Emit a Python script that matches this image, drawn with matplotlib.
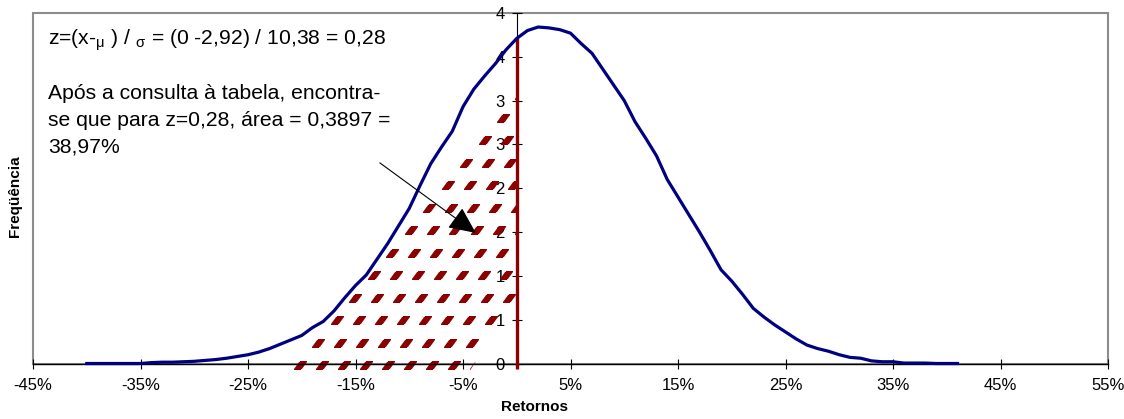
import numpy as np
import matplotlib
matplotlib.use("Agg")
import matplotlib.pyplot as plt
from matplotlib.path import Path
from matplotlib.patches import Polygon, Rectangle

plt.rcParams['font.family'] = ['Liberation Sans', 'DejaVu Sans']
plt.rcParams['mathtext.fontset'] = 'custom'
plt.rcParams['mathtext.rm'] = 'Liberation Sans'
plt.rcParams['mathtext.it'] = 'Liberation Sans'

# ---- data ----
retornos = list(range(-40, 42))  # %
frequencia = [0, 0, 0, 0, 0, 0,
              0.01, 0.015, 0.015, 0.02, 0.025,
              0.035, 0.045, 0.06, 0.08, 0.10, 0.13, 0.17, 0.22, 0.27, 0.32,
              0.41, 0.48, 0.60, 0.75, 0.89, 1.01, 1.19, 1.37, 1.57, 1.77,
              2.03, 2.28, 2.47, 2.65, 2.93, 3.13, 3.28, 3.42, 3.58, 3.71,
              3.80, 3.84, 3.83, 3.81, 3.77, 3.65, 3.54, 3.36, 3.18, 3.00,
              2.76, 2.57, 2.37, 2.10, 1.90, 1.70, 1.50, 1.29, 1.07, 0.94,
              0.79, 0.63, 0.53, 0.44, 0.36, 0.28, 0.21, 0.17, 0.14, 0.10,
              0.07, 0.06, 0.03, 0.02, 0.02, 0.005, 0.005, 0.005, 0, 0, 0]
x_ticks = [-45, -35, -25, -15, -5, 5, 15, 25, 35, 45, 55]
x_tick_labels = ['-45%', '-35%', '-25%', '-15%', '-5%', '5%', '15%', '25%', '35%', '45%', '55%']
y_ticks = [0, 0.5, 1, 1.5, 2, 2.5, 3, 3.5, 4]
y_tick_labels = ['0', '1', '1', '2', '2', '3', '3', '4', '4']
corte_x = 0.0           # z cut point (0 %)
corte_y = 3.72          # curve height at the cut
hatch_x = [-21.3, -4.4, 0.0, 0.0]     # hatched shaded area (left of the cut)
hatch_y = [-0.09, -0.09, 0.75, 3.08]
arrow_start = (-12.74, 2.29)
arrow_end = (-3.81, 1.49)

W, H = 1124, 419
fig = plt.figure(figsize=(W / 100, H / 100), dpi=100)
ax = fig.add_axes([33 / W, 1 - 363.5 / H, (1108 - 33) / W, (363.5 - 13) / H])
ax.set_xlim(-45, 55)
ax.set_ylim(0, 4)

dark_red = '#8B0000'

# hatch pattern (dashes) clipped to the shaded polygon
poly = Polygon(np.column_stack([hatch_x, hatch_y]), closed=True, transform=ax.transData)
rows = np.arange(0, 14)
cols = np.arange(-14, 14)
R, C = np.meshgrid(rows, cols)
dash_y = -0.02 + R * 0.257
dash_x = -20.2 + R * 1.72 + C * 2.05
dash_marker = Path([(-1, -0.55), (0.2, -0.55), (1, 0.55), (-0.2, 0.55), (-1, -0.55)],
                   [Path.MOVETO, Path.LINETO, Path.LINETO, Path.LINETO, Path.CLOSEPOLY])
dl, = ax.plot(dash_x.ravel(), dash_y.ravel(), linestyle='none', marker=dash_marker,
              markersize=9.5, markerfacecolor=dark_red, markeredgewidth=0, zorder=2)
dl.set_clip_path(poly)
dl.set_clip_box(None)

# frame
ax.add_patch(Rectangle((0, 0), 1, 1, transform=ax.transAxes, fill=False,
                       edgecolor='#8c8c8c', linewidth=1.5, clip_on=False, zorder=1))

# vertical cut line
ax.plot([corte_x, corte_x], [-0.06, corte_y], color=dark_red, linewidth=2.4,
        solid_capstyle='butt', zorder=3, clip_on=False)

# curve
ax.plot(retornos, frequencia, color='#000080', linewidth=2.3, zorder=4, clip_on=False)

# axes styling
for s in ['top', 'right']:
    ax.spines[s].set_visible(False)
ax.spines['left'].set_position(('data', 0))
ax.spines['left'].set_linewidth(0.8)
ax.spines['bottom'].set_linewidth(1.0)
ax.spines['left'].set_zorder(2.5)
ax.set_xticks(x_ticks)
ax.set_xticklabels(x_tick_labels)
ax.set_yticks(y_ticks)
ax.set_yticklabels(y_tick_labels)
ax.tick_params(axis='x', direction='inout', length=7, width=0.8, pad=7, labelsize=12)
ax.tick_params(axis='y', direction='inout', length=7, width=0.8, pad=5, labelsize=12)

# axis titles
fig.text(534 / W, 1 - 407 / H, 'Retornos', ha='center', va='center',
         fontsize=11, fontweight='bold')
fig.text(15 / W, 1 - 196 / H, 'Freqüência', ha='center', va='center',
         rotation=90, fontsize=11, fontweight='bold')

# annotation text
fs = 15.2
fig.text(48 / W, 1 - 40 / H, r'z=(x-$_{\mathrm{μ}}$ ) / $_{\mathrm{σ}}$ = (0 -2,92) / 10,38 = 0,28',
         ha='left', va='center', fontsize=fs)
for i, line in enumerate(['Após a consulta à tabela, encontra-',
                          'se que para z=0,28, área = 0,3897 =',
                          '38,97%']):
    fig.text(48 / W, 1 - (93 + 27 * i) / H, line, ha='left', va='center', fontsize=fs)

ax.annotate('', xy=arrow_end, xytext=arrow_start,
            arrowprops=dict(arrowstyle='-|>,head_length=1.3,head_width=0.6',
                            mutation_scale=13, color='black', lw=0.8,
                            shrinkA=0, shrinkB=0), zorder=5)

fig.savefig('out.png', dpi=100)
